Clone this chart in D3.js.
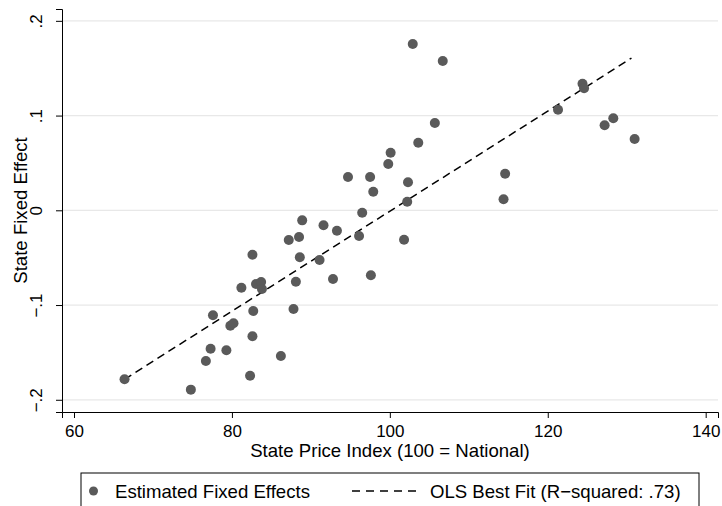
<!DOCTYPE html>
<html>
<head>
<meta charset="utf-8">
<script src="https://cdn.jsdelivr.net/npm/d3@7"></script>
<style>
  body { margin: 0; background: #fff; }
  svg { display: block; font-family: "Liberation Sans", Arial, sans-serif; }
</style>
</head>
<body>
<svg id="chart" width="722" height="506"></svg>
<script>
// State price index (x) and estimated state fixed effect (y)
var priceIndex = [102.9, 106.7, 105.7, 103.6, 100.1, 99.8, 94.7, 97.5, 102.3, 97.9,
                  124.4, 124.6, 121.3, 128.3, 127.2, 131.0, 114.6, 114.4, 102.2, 96.5,
                  88.9, 91.6, 93.3, 87.2, 88.5, 96.1, 101.8, 82.6, 88.6, 91.1,
                  88.1, 92.8, 97.6, 81.2, 83.05, 83.7, 83.8, 82.7, 87.8, 77.6,
                  79.8, 80.2, 82.6, 77.3, 79.3, 76.7, 86.2, 82.3, 74.8, 66.4]
var fixedEffect = [0.1755, 0.1576, 0.0921, 0.0713, 0.0608, 0.0489, 0.0351, 0.0351, 0.0296, 0.0196,
                   0.1336, 0.1288, 0.1062, 0.0971, 0.0897, 0.0753, 0.0386, 0.0116, 0.0091, -0.0025,
                   -0.0106, -0.0158, -0.0215, -0.0313, -0.0282, -0.0271, -0.0310, -0.0469, -0.0496, -0.0525,
                   -0.0754, -0.0725, -0.0686, -0.0817, -0.0778, -0.0757, -0.0831, -0.1063, -0.1042, -0.1108,
                   -0.1218, -0.1193, -0.1330, -0.1461, -0.1478, -0.1591, -0.1538, -0.1746, -0.1893, -0.1784]

// OLS fitted line end points
var fitX = [66.4, 130.6]
var fitY = [-0.1784, 0.1607]

// Axis ticks and labels
var xTicks = [60, 80, 100, 120, 140]
var yTicks = [-0.2, -0.1, 0, 0.1, 0.2]
var yTickLabels = ["\u2212.2", "\u2212.1", "0", ".1", ".2"]

var legendLabels = ["Estimated Fixed Effects", "OLS Best Fit (R\u2212squared: .73)"]

// Plot region (window.top is read-only, so no plain "top" here)
var plotLeft = 62, plotRight = 718, plotTop = 9, plotBottom = 412
var pointColor = '#5a5a5a'
var titleSize = '18.6px'
var tickSize = '17px'

var svg = d3.select('#chart')

svg.append('rect')
    .attr('width', 722)
    .attr('height', 506)
    .attr('fill', '#ffffff')

var x = d3.scaleLinear().domain([58.48, 141.56]).range([plotLeft, plotRight])
var y = d3.scaleLinear().domain([-0.2129, 0.2125]).range([plotBottom, plotTop])

// Horizontal grid lines
svg.append('g')
    .selectAll('line')
    .data(yTicks)
    .join('line')
    .attr('x1', plotLeft)
    .attr('x2', plotRight)
    .attr('y1', function(d) { return y(d) })
    .attr('y2', function(d) { return y(d) })
    .style('stroke', '#e8e8e8')
    .style('stroke-width', 1.2)

// Y axis, labels turned to read upwards
var yAxis = svg.append('g')
    .attr('transform', 'translate(' + plotLeft + ',0)')
    .call(d3.axisLeft(y).tickValues(yTicks).tickSizeOuter(0).tickSize(6)
        .tickFormat(function(d, i) { return yTickLabels[i] }))

yAxis.selectAll('text')
    .attr('x', 0)
    .attr('y', -20)
    .attr('dy', 0)
    .attr('transform', 'rotate(-90)')
    .style('text-anchor', 'middle')
    .style('font-size', tickSize)
    .style('fill', '#000')

// X axis
var xAxis = svg.append('g')
    .attr('transform', 'translate(0,' + plotBottom + ')')
    .call(d3.axisBottom(x).tickValues(xTicks).tickSizeOuter(0).tickSize(6)
        .tickFormat(d3.format('d')))

xAxis.selectAll('text')
    .attr('y', 12.5)
    .style('font-size', tickSize)
    .style('fill', '#000')

svg.selectAll('.domain, .tick line')
    .style('stroke', '#000')
    .style('stroke-width', 1)

// Axis titles
svg.append('text')
    .text('State Fixed Effect')
    .attr('transform', 'translate(26.5,' + ((plotTop + plotBottom) / 2) + ') rotate(-90)')
    .style('text-anchor', 'middle')
    .style('font-size', titleSize)

svg.append('text')
    .text('State Price Index (100 = National)')
    .attr('x', (plotLeft + plotRight) / 2)
    .attr('y', 457)
    .style('text-anchor', 'middle')
    .style('font-size', titleSize)

// Fitted line
svg.append('line')
    .attr('x1', x(fitX[0]))
    .attr('y1', y(fitY[0]))
    .attr('x2', x(fitX[1]))
    .attr('y2', y(fitY[1]))
    .style('stroke', '#000')
    .style('stroke-width', 1.5)
    .style('stroke-dasharray', '8,5')

// Points
svg.append('g')
    .selectAll('circle')
    .data(priceIndex)
    .join('circle')
    .attr('cx', function(d) { return x(d) })
    .attr('cy', function(d, i) { return y(fixedEffect[i]) })
    .attr('r', 5)
    .attr('fill', pointColor)

// Legend
svg.append('rect')
    .attr('x', 81)
    .attr('y', 473)
    .attr('width', 618)
    .attr('height', 40)
    .attr('fill', '#fff')
    .style('stroke', '#000')
    .style('stroke-width', 1)

svg.append('circle')
    .attr('cx', 93.5)
    .attr('cy', 491)
    .attr('r', 4.5)
    .attr('fill', pointColor)

svg.append('text')
    .text(legendLabels[0])
    .attr('x', 115)
    .attr('y', 497.5)
    .style('font-size', titleSize)

svg.append('line')
    .attr('x1', 352)
    .attr('x2', 418)
    .attr('y1', 491)
    .attr('y2', 491)
    .style('stroke', '#000')
    .style('stroke-width', 1.5)
    .style('stroke-dasharray', '8,6')

svg.append('text')
    .text(legendLabels[1])
    .attr('x', 430)
    .attr('y', 497.5)
    .style('font-size', titleSize)
</script>
</body>
</html>
